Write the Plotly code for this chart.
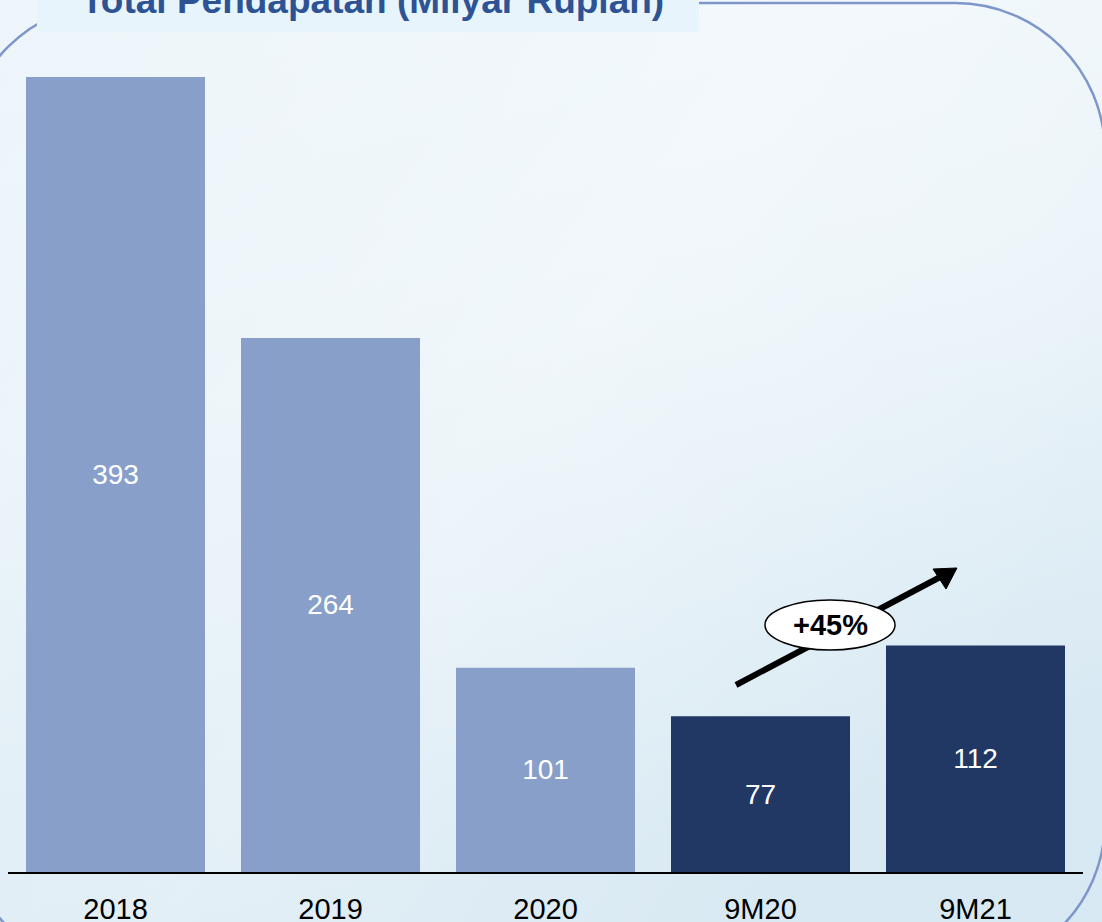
import plotly.graph_objects as go
import urllib.parse

W, H = 1102, 922

categories = ["2018", "2019", "2020", "9M20", "9M21"]
values = [393, 264, 101, 77, 112]
bar_colors = ["#889FCA", "#889FCA", "#889FCA", "#213764", "#213764"]
title_text = "Total Pendapatan (Milyar Rupiah)"
growth_label = "+45%"


def X(px):
    return px / W


def Y(py):
    return 1 - py / H


def P(px, py):
    return f"{X(px):.5f},{Y(py):.5f}"


fig = go.Figure()
fig.add_trace(go.Bar(
    x=categories, y=values,
    marker=dict(color=bar_colors, line=dict(width=0)),
    text=values, texttemplate="%{y}",
    textposition="inside", insidetextanchor="middle", textangle=0,
    textfont=dict(color="white", size=28, family="Liberation Sans"),
    constraintext="none",
    hoverinfo="skip",
))

# background gradient
svg = (
    f'<svg xmlns="http://www.w3.org/2000/svg" width="{W}" height="{H}" viewBox="0 0 {W} {H}" preserveAspectRatio="none">'
    '<defs>'
    '<linearGradient id="g" x1="0" y1="0" x2="0.25" y2="1">'
    '<stop offset="0" stop-color="#EEF6FB"/>'
    '<stop offset="0.45" stop-color="#E9F3F9"/>'
    '<stop offset="1" stop-color="#D3E6F1"/>'
    '</linearGradient>'
    '<linearGradient id="s" x1="0" y1="0" x2="1" y2="0.6">'
    '<stop offset="0" stop-color="#FFFFFF" stop-opacity="0"/>'
    '<stop offset="0.55" stop-color="#FFFFFF" stop-opacity="0.35"/>'
    '<stop offset="1" stop-color="#FFFFFF" stop-opacity="0.1"/>'
    '</linearGradient>'
    '</defs>'
    f'<rect x="0" y="0" width="{W}" height="{H}" fill="url(#g)"/>'
    f'<rect x="0" y="0" width="{W}" height="{H}" fill="url(#s)"/>'
    '</svg>'
)
src = "data:image/svg+xml;charset=utf-8," + urllib.parse.quote(svg)
fig.add_layout_image(dict(source=src, xref="paper", yref="paper", x=0, y=1,
                          sizex=1, sizey=1, xanchor="left", yanchor="top",
                          sizing="stretch", layer="below"))

# rounded frame
L, T, Rr, B, R = -36, 3, 1105, 971, 150
c = 0.5523 * R
path = (
    f"M {P(L + R, T)} L {P(Rr - R, T)} "
    f"C {P(Rr - R + c, T)} {P(Rr, T + R - c)} {P(Rr, T + R)} "
    f"L {P(Rr, B - R)} "
    f"C {P(Rr, B - R + c)} {P(Rr - R + c, B)} {P(Rr - R, B)} "
    f"L {P(L + R, B)} "
    f"C {P(L + R - c, B)} {P(L, B - R + c)} {P(L, B - R)} "
    f"L {P(L, T + R)} "
    f"C {P(L, T + R - c)} {P(L + R - c, T)} {P(L + R, T)} Z"
)
shapes = [
    dict(type="path", path=path, xref="paper", yref="paper",
         line=dict(color="#7E96CB", width=2.5), fillcolor="rgba(0,0,0,0)", layer="below"),
    dict(type="rect", xref="paper", yref="paper", x0=X(37), x1=X(699), y0=Y(32), y1=Y(-5),
         fillcolor="#E8F4FB", line=dict(width=0), layer="below"),
    # growth arrow
    dict(type="line", xref="paper", yref="paper", x0=X(736), y0=Y(685), x1=X(944), y1=Y(575),
         line=dict(color="black", width=6), layer="above"),
    dict(type="path", xref="paper", yref="paper",
         path=f"M {P(957, 568)} L {P(933, 569)} L {P(946, 589)} Z",
         fillcolor="black", line=dict(color="black", width=1), layer="above"),
    dict(type="circle", xref="paper", yref="paper", x0=X(765), x1=X(895), y0=Y(650), y1=Y(600),
         fillcolor="white", line=dict(color="black", width=1.5), layer="above"),
]

annotations = [
    dict(text=f"<b>{title_text}</b>", xref="paper", yref="paper", x=X(79), y=Y(15),
         xanchor="left", yanchor="bottom", showarrow=False, yshift=-8,
         font=dict(size=37, color="#2E5395", family="Liberation Sans")),
    dict(text=f"<b>{growth_label}</b>", xref="paper", yref="paper", x=X(830), y=Y(625),
         xanchor="center", yanchor="middle", showarrow=False,
         font=dict(size=29, color="black", family="Liberation Sans")),
]

fig.update_layout(
    width=W, height=H,
    margin=dict(l=0, r=0, t=0, b=0),
    paper_bgcolor="#E6F2F9", plot_bgcolor="rgba(0,0,0,0)",
    bargap=1 - 179 / 215,
    showlegend=False,
    shapes=shapes, annotations=annotations,
    xaxis=dict(domain=[X(8), X(1083)], type="category", range=[-0.5, 4.5],
               showline=True, linecolor="black", linewidth=2,
               ticks="outside", ticklen=10, tickcolor="rgba(0,0,0,0)",
               tickfont=dict(size=29, color="black", family="Liberation Sans"),
               showgrid=False, zeroline=False, automargin=False, fixedrange=True),
    yaxis=dict(domain=[Y(872), Y(40)], range=[0, 832 / (795 / 393)],
               visible=False, showgrid=False, zeroline=False, automargin=False, fixedrange=True),
)

fig.write_html("out.html", config={"displayModeBar": False},
               post_script="document.body.style.margin='0';document.body.style.overflow='hidden';")
